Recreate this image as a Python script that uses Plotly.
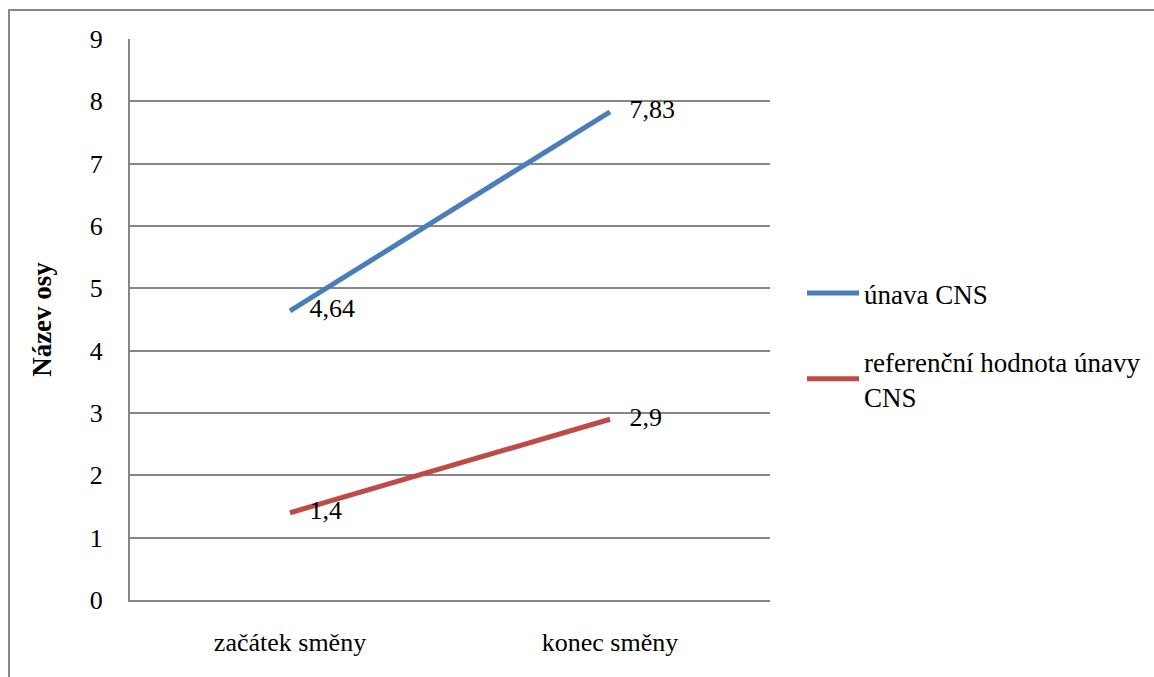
import plotly.graph_objects as go

categories = ["začátek směny", "konec směny"]
unava_cns = [4.64, 7.83]
referencni = [1.4, 2.9]
unava_labels = ["4,64", "7,83"]
ref_labels = ["1,4", "2,9"]
y_ticks = list(range(0, 10))

FONT = "Liberation Serif"
FS = 26

fig = go.Figure()
fig.add_trace(go.Scatter(
    x=categories, y=unava_cns, mode="lines+text", name="únava CNS",
    line=dict(color="#4A7EBB", width=5),
    text=unava_labels, texttemplate="   %{text}", textposition="middle right",
    textfont=dict(family=FONT, size=FS, color="black"),
    legendgroup="a",
))
fig.add_trace(go.Scatter(
    x=categories, y=referencni, mode="lines+text", name="referenční hodnota únavy<br>CNS",
    line=dict(color="#BE4B48", width=5),
    text=ref_labels, texttemplate="   %{text}", textposition="middle right",
    textfont=dict(family=FONT, size=FS, color="black"),
    legendgroup="b",
))

W, H = 1154, 677
L, R, T, B = 130, 770, 39, 600
pw, ph = R - L, B - T

fig.update_layout(
    width=W, height=H,
    margin=dict(l=L, r=W - R, t=T, b=H - B, autoexpand=False),
    paper_bgcolor="white", plot_bgcolor="white",
    font=dict(family=FONT, size=FS, color="black"),
    showlegend=True,
    legend=dict(
        x=(802 - L) / pw, y=(B - 269) / ph, xanchor="left", yanchor="top",
        font=dict(family=FONT, size=27, color="black"),
        traceorder="grouped", tracegroupgap=30, itemwidth=52,
        bgcolor="rgba(0,0,0,0)",
    ),
    xaxis=dict(
        type="category", range=[-0.5, 1.5], showgrid=False,
        showline=True, linecolor="#868686", linewidth=2, ticks="",
        ticklabelstandoff=18, tickfont=dict(family=FONT, size=FS),
        zeroline=False,
    ),
    yaxis=dict(
        range=[0, 9], tickvals=y_ticks, showgrid=True, gridcolor="#868686",
        gridwidth=1.5, showline=True, linecolor="#868686", linewidth=2,
        ticks="", ticklabelstandoff=20, zeroline=False,
        tickfont=dict(family=FONT, size=FS),
        title=dict(text="<b>Název osy</b>", font=dict(family=FONT, size=27), standoff=30),
    ),
    shapes=[
        dict(type="rect", xref="paper", yref="paper",
             x0=(9 - L) / pw, x1=(W + 20 - L) / pw,
             y0=(B - (H + 20)) / ph, y1=(B - 10) / ph,
             line=dict(color="#888888", width=2), fillcolor="rgba(0,0,0,0)", layer="below"),
    ],
)

fig.write_html("out.html")
